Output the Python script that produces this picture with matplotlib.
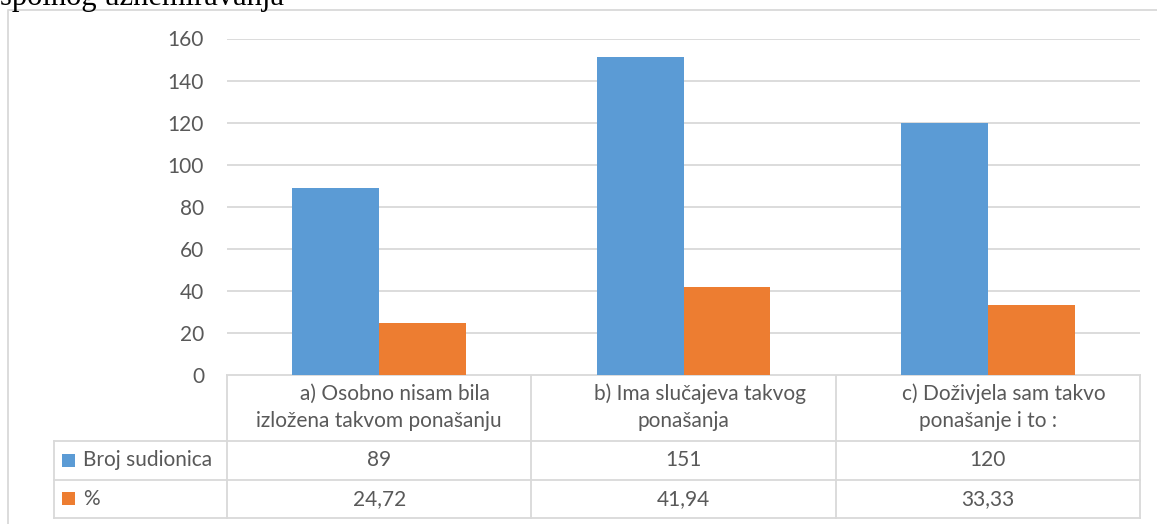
import matplotlib.pyplot as plt
from matplotlib.lines import Line2D
from matplotlib.patches import Rectangle
import numpy as np

# data
categories = ["a) Osobno nisam bila\nizložena takvom ponašanju",
              "b) Ima slučajeva takvog\nponašanja",
              "c) Doživjela sam takvo\nponašanje i to :"]
series_names = ["Broj sudionica", "%"]
broj = [89, 151, 120]
postotak = [24.72, 41.94, 33.33]
yticks = [0, 20, 40, 60, 80, 100, 120, 140, 160]

BLUE = "#5B9BD5"
ORANGE = "#ED7D31"
GRID = "#D9D9D9"
TXT = "#595959"
FONT = "Lato"
FS = 15

W, H = 1157, 524
fig = plt.figure(figsize=(W / 100, H / 100), dpi=100)

# background layer in pixel coordinates (y down) for border and table
ov = fig.add_axes([0, 0, 1, 1], zorder=-1)
ov.set_xlim(0, W)
ov.set_ylim(H, 0)
ov.axis("off")

# plot area
x0, x1, ytop, ybot = 227, 1140, 38.5, 375
ax = fig.add_axes([x0 / W, 1 - ybot / H, (x1 - x0) / W, (ybot - ytop) / H])
x = np.arange(len(categories))
bw = 1 / 3.5
ax.bar(x - bw / 2, broj, bw, color=BLUE, zorder=3)
ax.bar(x + bw / 2, postotak, bw, color=ORANGE, zorder=3)
ax.set_xlim(-0.5, len(categories) - 0.5)
ax.set_ylim(0, 160)
ax.set_yticks(yticks)
ax.set_xticks([])
ax.yaxis.grid(True, color=GRID, lw=1.3)
ax.set_axisbelow(True)
for s in ax.spines.values():
    s.set_visible(False)
ax.tick_params(axis="y", length=0, pad=16.5, labelcolor=TXT, labelsize=FS)
for lab in ax.get_yticklabels():
    lab.set_fontfamily(FONT)

# outer chart border
ov.add_line(Line2D([8, 8, W], [H, 9.5, 9.5], color=GRID, lw=1.3))

# heading line above the chart, cut by the top edge of the page
ov.text(0, 5, "spolnog uznemiravanja", fontfamily="Liberation Serif",
        fontsize=22, color="black", ha="left", va="baseline")

# data table below the axis
def col_px(v):
    return ax.transData.transform((v, 0))[0]

edges = [col_px(i - 0.5) for i in range(len(categories) + 1)]
left = 54
r0, r1, r2, r3 = 375, 440.5, 479.5, 518
lk = dict(color=GRID, lw=1.3)
ov.add_line(Line2D([edges[0], edges[-1]], [r0, r0], **lk))
for ry in (r1, r2, r3):
    ov.add_line(Line2D([left, edges[-1]], [ry, ry], **lk))
ov.add_line(Line2D([left, left], [r1, r3], **lk))
for ex in edges:
    ov.add_line(Line2D([ex, ex], [r0, r3], **lk))

tk = dict(fontfamily=FONT, fontsize=FS, color=TXT, va="center")
for i, cat in enumerate(categories):
    cx = (edges[i] + edges[i + 1]) / 2
    l1, l2 = cat.split("\n")
    ov.text(cx + 16, 394, l1, ha="center", **tk)
    ov.text(cx, 421, l2, ha="center", **tk)

rows = [(series_names[0], BLUE, [str(v) for v in broj], (r1 + r2) / 2),
        (series_names[1], ORANGE, [f"{v:.2f}".replace(".", ",") for v in postotak], (r2 + r3) / 2)]
for name, col, labels, cy in rows:
    ov.add_patch(Rectangle((62, cy - 6.5), 13, 13, color=col, lw=0))
    ov.text(83, cy, name, ha="left", **tk)
    for i, lab in enumerate(labels):
        cx = (edges[i] + edges[i + 1]) / 2
        ov.text(cx, cy, lab, ha="center", **tk)

fig.savefig("out.png", dpi=100)
